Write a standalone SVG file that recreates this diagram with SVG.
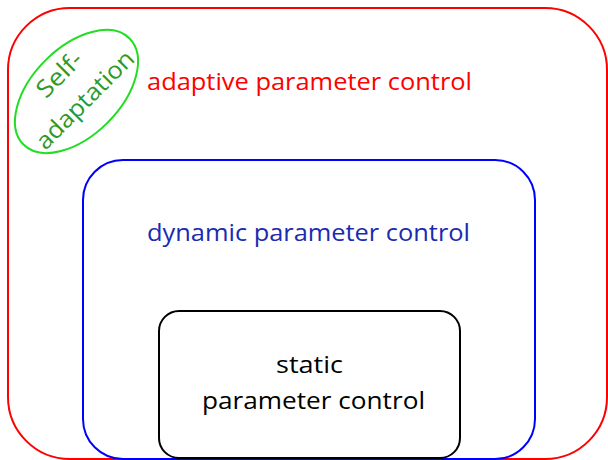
<svg xmlns="http://www.w3.org/2000/svg" width="608" height="460" viewBox="0 0 608 460">
<style>
  .box { fill: none; stroke-width: 2; }
  .lbl { font-family: "Open Sans", "DejaVu Sans", sans-serif; font-size: 24px; }
</style>
<rect width="608" height="460" fill="#ffffff"/>
<g id="adaptive">
  <rect class="box" x="8" y="8" width="599" height="451" rx="62" ry="62" stroke="#ff0000"/>
  <text class="lbl" x="147" y="90" fill="#ff0000" textLength="325" lengthAdjust="spacingAndGlyphs">adaptive parameter control</text>
</g>
<g id="dynamic">
  <rect class="box" x="83" y="160" width="452" height="299" rx="40" ry="40" stroke="#0000ff"/>
  <text class="lbl" x="147" y="241" fill="#1a2bb0" textLength="323" lengthAdjust="spacingAndGlyphs">dynamic parameter control</text>
</g>
<g id="static">
  <rect class="box" x="159" y="311" width="301" height="147" rx="20" ry="20" stroke="#000000"/>
  <text class="lbl" x="309.5" y="373" fill="#000000" text-anchor="middle" textLength="67" lengthAdjust="spacingAndGlyphs">static</text>
  <text class="lbl" x="313.5" y="409" fill="#000000" text-anchor="middle" textLength="223" lengthAdjust="spacingAndGlyphs">parameter control</text>
</g>
<g id="self-adaptation" transform="translate(76.5,91.5) rotate(-45)">
  <ellipse class="box" cx="0" cy="0" rx="75" ry="44" stroke="#22dd22"/>
  <text class="lbl" x="0" y="-16" fill="#2a9a2a" text-anchor="middle" textLength="54" lengthAdjust="spacingAndGlyphs">Self-</text>
  <text class="lbl" x="0" y="20" fill="#2a9a2a" text-anchor="middle" textLength="128" lengthAdjust="spacingAndGlyphs">adaptation</text>
</g>
<g id="connectors"></g>
</svg>
